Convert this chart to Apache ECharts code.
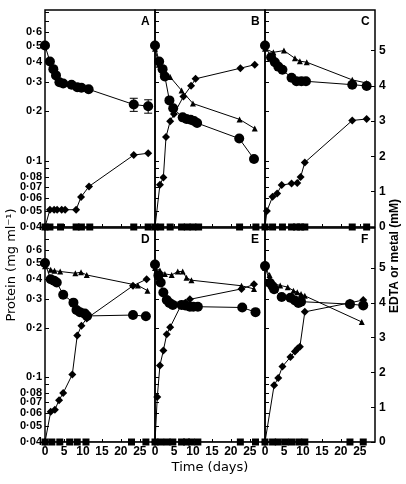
<!DOCTYPE html>
<html><head><meta charset="utf-8">
<script src="https://cdn.jsdelivr.net/npm/echarts@6/dist/echarts.min.js"></script>
<style>html,body{margin:0;padding:0;background:#fff}#c{width:406px;height:484px}</style>
</head><body><div id="c"></div>
<script>
// values: [day, value]; circles = protein (mg/ml, log), others = mM
const panelNames = ['A', 'B', 'C', 'D', 'E', 'F'];
const xTickLabels = [0, 5, 10, 15, 20, 25];
const proteinTicks = [0.04, 0.05, 0.06, 0.07, 0.08, 0.1, 0.2, 0.3, 0.4, 0.5, 0.6];
const proteinMinor = [0.04, 0.05, 0.06, 0.07, 0.08, 0.09, 0.1, 0.2, 0.3, 0.4, 0.5, 0.6, 0.7, 0.8];
const mMTicks = [0, 1, 2, 3, 4, 5];

const aCircle = [[0,0.5],[1.3,0.4],[2.2,0.36],[2.9,0.33],[3.8,0.3],[4.8,0.295],[7,0.29],[8.5,0.28],[9.6,0.278],[11.5,0.272],[23.4,0.22],[27.2,0.215]];
const aError = [[23.4,0.22,0.02],[27.2,0.215,0.02]];
const aDiamond = [[0,0],[1.3,0.49],[2.4,0.49],[3.2,0.49],[4.4,0.49],[5.3,0.49],[8.2,0.49],[9.5,0.85],[11.6,1.15],[23.4,2.04],[27.2,2.09]];
const aTriangle = [];
const aSquare = [[0,0],[1.3,0],[4.1,0],[8.2,0],[9.6,0],[11.8,0],[23.4,0],[27.2,0]];

const bCircle = [[0,0.5],[1.1,0.4],[2,0.36],[2.6,0.325],[3.8,0.233],[4.8,0.209],[7.3,0.184],[8.3,0.18],[9.4,0.178],[10.3,0.175],[11.1,0.17],[22.2,0.137],[26.1,0.103]];
const bDiamond = [[0,0],[1.3,1.2],[2.2,1.4],[2.9,2.55],[4,3.0],[5,3.2],[7.5,3.7],[9.5,4.0],[10.7,4.2],[22.5,4.5],[26.3,4.6]];
const bTriangle = [[0,5.05],[1,4.6],[2,4.4],[4,4.25],[7,3.87],[10,3.5],[22.3,3.05],[26.3,2.79]];
const bSquare = [[0,0],[1.5,0],[4,0],[7,0],[8.5,0],[10,0],[11.5,0],[22.3,0],[26.6,0]];

const cCircle = [[0,0.5],[1.6,0.425],[2.6,0.396],[3.5,0.373],[4.6,0.357],[7,0.319],[8.3,0.304],[9.6,0.304],[10.8,0.304],[23,0.29],[26.8,0.285]];
const cDiamond = [[0,0],[0.5,0.45],[2,0.86],[3.2,0.95],[4.4,1.19],[7,1.23],[8.5,1.25],[9.4,1.42],[10.5,1.83],[23,3.02],[26.8,3.06]];
const cTriangle = [[0,5.05],[2.2,4.95],[5,5.0],[7.9,4.78],[9.2,4.7],[11,4.67],[23,4.17],[26.8,4.08]];
const cSquare = [[0,0],[2,0],[4.6,0],[7,0],[8.3,0],[9.4,0],[10.5,0],[23,0],[26.8,0]];

const dCircle = [[0,0.5],[1.5,0.398],[2.4,0.39],[3.1,0.38],[4.8,0.32],[7.5,0.286],[8.3,0.258],[9.2,0.25],[10.5,0.245],[11.1,0.237],[23.2,0.24],[26.6,0.236]];
const dDiamond = [[0,0],[1.5,0.87],[2.6,0.93],[3.7,1.2],[4.8,1.41],[7.2,1.94],[8.5,3.06],[9.6,3.34],[11,3.55],[23.2,4.49],[26.8,4.68]];
const dTriangle = [[0,5.05],[1.5,4.95],[2.5,4.92],[4,4.9],[8,4.85],[9.5,4.88],[11,4.8],[24.5,4.5],[27,4.35]];
const dSquare = [[0,0],[1.8,0],[3.9,0],[6.5,0],[8.5,0],[10.8,0],[22.8,0],[26.6,0]];

const eCircle = [[0,0.49],[0.9,0.42],[1.5,0.38],[2.2,0.33],[3.1,0.297],[3.8,0.285],[4.7,0.277],[7,0.277],[8,0.275],[9.2,0.27],[10.1,0.27],[11.3,0.27],[23,0.267],[26.5,0.25]];
const eDiamond = [[0,0],[0.6,1.29],[1.3,2.2],[2.2,2.63],[3.1,3.1],[4,3.3],[7,3.96],[8,4.0],[9.2,4.1],[22.8,4.4],[26.1,4.53]];
const eTriangle = [[0,5.0],[1.3,4.93],[2.6,4.83],[4.4,4.8],[6,4.9],[7.3,4.9],[8.3,4.72],[9.6,4.65],[22.8,4.49],[26.1,4.4]];
const eSquare = [[0,0],[1.5,0],[3.2,0],[4.7,0],[7,0],[8.3,0],[9.6,0],[11.3,0],[22.5,0],[26.5,0]];

const fCircle = [[0,0.48],[1.3,0.377],[2,0.36],[2.4,0.346],[4.4,0.31],[6.7,0.306],[7.9,0.295],[8.8,0.285],[9.5,0.29],[22.4,0.28],[25.9,0.275]];
const fDiamond = [[0,0],[2.4,1.63],[3.5,1.84],[4.6,2.17],[6.7,2.44],[7.9,2.6],[8.6,2.69],[9.2,2.74],[10.5,3.74],[22.4,4.0],[25.9,4.08]];
const fTriangle = [[0,5.0],[1.2,4.8],[2,4.55],[4,4.5],[6,4.45],[7.5,4.35],[8.5,4.3],[9.5,4.25],[10.5,4.2],[25.5,3.45]];
const fSquare = [[0,0],[2,0],[3.5,0],[5.3,0],[7,0],[8.9,0],[10.5,0],[22.4,0],[25.9,0]];

const panels = [
  [aCircle, aDiamond, aTriangle, aSquare], [bCircle, bDiamond, bTriangle, bSquare], [cCircle, cDiamond, cTriangle, cSquare],
  [dCircle, dDiamond, dTriangle, dSquare], [eCircle, eDiamond, eTriangle, eSquare], [fCircle, fDiamond, fTriangle, fSquare]
];

const FONT = '"Liberation Sans Narrow", "Liberation Sans", sans-serif';
const lefts = [45, 155, 265];
const grids = [], xAxes = [], yAxes = [], series = [], graphics = [];

panels.forEach(function (p, i) {
  const row = Math.floor(i / 3), col = i % 3;
  const top = row === 0 ? 10 : 228;
  const h = row === 0 ? 217 : 214;
  grids.push({ left: lefts[col], top: top, width: 110, height: h, show: true, borderColor: '#000', borderWidth: 1.5, backgroundColor: 'transparent' });
  xAxes.push({
    gridIndex: i, type: 'value', min: 0, max: 29,
    axisLine: { show: false },
    axisTick: { show: true, inside: true, length: 3, customValues: xTickLabels, lineStyle: { color: '#000' } },
    axisLabel: { show: row === 1, customValues: xTickLabels, color: '#000', fontFamily: FONT, fontWeight: 'bold', fontSize: 12, margin: 4 },
    splitLine: { show: false }
  });
  yAxes.push({
    gridIndex: i, type: 'log', logBase: 10, min: 0.04, max: 0.82, position: 'left',
    axisLine: { show: false },
    axisTick: { show: true, inside: true, length: 4, customValues: proteinMinor, lineStyle: { color: '#000' } },
    axisLabel: { show: col === 0, customValues: proteinTicks, color: '#000', fontFamily: FONT, fontWeight: 'bold', fontSize: 11, margin: 3,
      formatter: function (v) { return String(+v.toFixed(2)).replace('.', '·'); } },
    splitLine: { show: false }, minorSplitLine: { show: false }
  });
  yAxes.push({
    gridIndex: i, type: 'value', min: 0, max: 6.15, position: 'right',
    axisLine: { show: false },
    axisTick: { show: col === 2, inside: true, length: 4, customValues: mMTicks, lineStyle: { color: '#000' } },
    axisLabel: { show: col === 2, customValues: mMTicks, color: '#000', fontFamily: FONT, fontWeight: 'bold', fontSize: 12, margin: 4 },
    splitLine: { show: false }
  });
  const base = { type: 'line', xAxisIndex: i, color: '#000', lineStyle: { color: '#000', width: 1 }, itemStyle: { color: '#000' }, animation: false, z: 3 };
  series.push(Object.assign({}, base, { yAxisIndex: 2 * i, data: p[0], symbol: 'circle', symbolSize: 10 }));
  series.push(Object.assign({}, base, { yAxisIndex: 2 * i + 1, data: p[1], symbol: 'diamond', symbolSize: 8 }));
  if (p[2].length) series.push(Object.assign({}, base, { yAxisIndex: 2 * i + 1, data: p[2], symbol: 'triangle', symbolSize: 6 }));
  series.push(Object.assign({}, base, { yAxisIndex: 2 * i + 1, data: p[3], symbol: 'rect', symbolSize: 7 }));
  graphics.push({ type: 'text', left: lefts[col] + 96, top: top + 6, style: { text: panelNames[i], font: 'bold 12px ' + FONT, fill: '#000' } });
});

// error bars in panel A
series.push({
  type: 'custom', xAxisIndex: 0, yAxisIndex: 0, data: aError, animation: false, z: 4,
  renderItem: function (params, api) {
    const x = api.value(0), y = api.value(1), e = api.value(2);
    const hi = api.coord([x, y + e]), lo = api.coord([x, y - e]);
    const s = { stroke: '#000', lineWidth: 1 };
    return { type: 'group', children: [
      { type: 'line', shape: { x1: hi[0], y1: hi[1], x2: lo[0], y2: lo[1] }, style: s },
      { type: 'line', shape: { x1: hi[0] - 4, y1: hi[1], x2: hi[0] + 4, y2: hi[1] }, style: s },
      { type: 'line', shape: { x1: lo[0] - 4, y1: lo[1], x2: lo[0] + 4, y2: lo[1] }, style: s }
    ] };
  }
});

graphics.push({ type: 'text', x: 12, y: 265, rotation: Math.PI / 2, style: { text: 'Protein (mg ml⁻¹)', font: '13px "DejaVu Sans", sans-serif', fill: '#000', textAlign: 'center', textVerticalAlign: 'middle' } });
graphics.push({ type: 'text', x: 395, y: 256, rotation: Math.PI / 2, style: { text: 'EDTA or metal (mM)', font: 'bold 12px ' + FONT, fill: '#000', textAlign: 'center', textVerticalAlign: 'middle' } });
graphics.push({ type: 'text', x: 210, y: 468, style: { text: 'Time (days)', font: '13px "DejaVu Sans", sans-serif', fill: '#000', textAlign: 'center', textVerticalAlign: 'middle' } });

const chart = echarts.init(document.getElementById('c'));
chart.setOption({ animation: false, backgroundColor: '#fff', grid: grids, xAxis: xAxes, yAxis: yAxes, series: series, graphic: graphics });
</script></body></html>
